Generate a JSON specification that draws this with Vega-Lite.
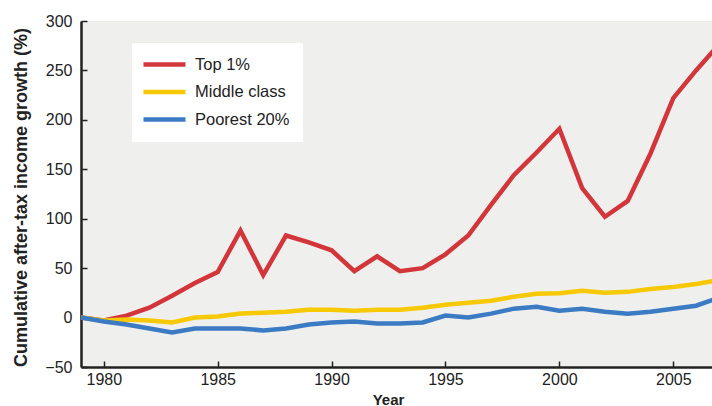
{
  "$schema": "https://vega.github.io/schema/vega-lite/v6.json",
  "autosize": {"type": "none"},
  "padding": {"left": 81, "top": 21, "right": 0, "bottom": 39},
  "width": 631,
  "height": 346,
  "background": "#ffffff",
  "view": {"fill": "#efefee", "stroke": null},
  "config": {
    "font": "Liberation Sans",
    "axis": {"labelFont": "Liberation Sans", "titleFont": "Liberation Sans", "labelColor": "#222222", "titleColor": "#222222"}
  },
  "data": {
    "values": [
      {"year": 1979, "group": "Top 1%", "value": 0},
      {"year": 1980, "group": "Top 1%", "value": -3},
      {"year": 1981, "group": "Top 1%", "value": 2},
      {"year": 1982, "group": "Top 1%", "value": 10},
      {"year": 1983, "group": "Top 1%", "value": 22},
      {"year": 1984, "group": "Top 1%", "value": 35},
      {"year": 1985, "group": "Top 1%", "value": 46},
      {"year": 1986, "group": "Top 1%", "value": 88},
      {"year": 1987, "group": "Top 1%", "value": 43},
      {"year": 1988, "group": "Top 1%", "value": 83},
      {"year": 1989, "group": "Top 1%", "value": 76},
      {"year": 1990, "group": "Top 1%", "value": 68},
      {"year": 1991, "group": "Top 1%", "value": 47},
      {"year": 1992, "group": "Top 1%", "value": 62},
      {"year": 1993, "group": "Top 1%", "value": 47},
      {"year": 1994, "group": "Top 1%", "value": 50},
      {"year": 1995, "group": "Top 1%", "value": 64},
      {"year": 1996, "group": "Top 1%", "value": 83},
      {"year": 1997, "group": "Top 1%", "value": 114},
      {"year": 1998, "group": "Top 1%", "value": 144},
      {"year": 1999, "group": "Top 1%", "value": 167},
      {"year": 2000, "group": "Top 1%", "value": 191},
      {"year": 2001, "group": "Top 1%", "value": 131},
      {"year": 2002, "group": "Top 1%", "value": 102},
      {"year": 2003, "group": "Top 1%", "value": 118},
      {"year": 2004, "group": "Top 1%", "value": 166},
      {"year": 2005, "group": "Top 1%", "value": 222},
      {"year": 2006, "group": "Top 1%", "value": 250},
      {"year": 2007, "group": "Top 1%", "value": 276},
      {"year": 1979, "group": "Middle class", "value": 0},
      {"year": 1980, "group": "Middle class", "value": -3},
      {"year": 1981, "group": "Middle class", "value": -2},
      {"year": 1982, "group": "Middle class", "value": -3},
      {"year": 1983, "group": "Middle class", "value": -5},
      {"year": 1984, "group": "Middle class", "value": 0},
      {"year": 1985, "group": "Middle class", "value": 1},
      {"year": 1986, "group": "Middle class", "value": 4},
      {"year": 1987, "group": "Middle class", "value": 5},
      {"year": 1988, "group": "Middle class", "value": 6},
      {"year": 1989, "group": "Middle class", "value": 8},
      {"year": 1990, "group": "Middle class", "value": 8},
      {"year": 1991, "group": "Middle class", "value": 7},
      {"year": 1992, "group": "Middle class", "value": 8},
      {"year": 1993, "group": "Middle class", "value": 8},
      {"year": 1994, "group": "Middle class", "value": 10},
      {"year": 1995, "group": "Middle class", "value": 13},
      {"year": 1996, "group": "Middle class", "value": 15},
      {"year": 1997, "group": "Middle class", "value": 17},
      {"year": 1998, "group": "Middle class", "value": 21},
      {"year": 1999, "group": "Middle class", "value": 24},
      {"year": 2000, "group": "Middle class", "value": 24.5},
      {"year": 2001, "group": "Middle class", "value": 27},
      {"year": 2002, "group": "Middle class", "value": 25},
      {"year": 2003, "group": "Middle class", "value": 26},
      {"year": 2004, "group": "Middle class", "value": 29},
      {"year": 2005, "group": "Middle class", "value": 31},
      {"year": 2006, "group": "Middle class", "value": 34},
      {"year": 2007, "group": "Middle class", "value": 38},
      {"year": 1979, "group": "Poorest 20%", "value": 0},
      {"year": 1980, "group": "Poorest 20%", "value": -4},
      {"year": 1981, "group": "Poorest 20%", "value": -7},
      {"year": 1982, "group": "Poorest 20%", "value": -11},
      {"year": 1983, "group": "Poorest 20%", "value": -15},
      {"year": 1984, "group": "Poorest 20%", "value": -11},
      {"year": 1985, "group": "Poorest 20%", "value": -11},
      {"year": 1986, "group": "Poorest 20%", "value": -11},
      {"year": 1987, "group": "Poorest 20%", "value": -13},
      {"year": 1988, "group": "Poorest 20%", "value": -11},
      {"year": 1989, "group": "Poorest 20%", "value": -7},
      {"year": 1990, "group": "Poorest 20%", "value": -5},
      {"year": 1991, "group": "Poorest 20%", "value": -4},
      {"year": 1992, "group": "Poorest 20%", "value": -6},
      {"year": 1993, "group": "Poorest 20%", "value": -6},
      {"year": 1994, "group": "Poorest 20%", "value": -5},
      {"year": 1995, "group": "Poorest 20%", "value": 2},
      {"year": 1996, "group": "Poorest 20%", "value": 0},
      {"year": 1997, "group": "Poorest 20%", "value": 4},
      {"year": 1998, "group": "Poorest 20%", "value": 9},
      {"year": 1999, "group": "Poorest 20%", "value": 11},
      {"year": 2000, "group": "Poorest 20%", "value": 7},
      {"year": 2001, "group": "Poorest 20%", "value": 9},
      {"year": 2002, "group": "Poorest 20%", "value": 6},
      {"year": 2003, "group": "Poorest 20%", "value": 4},
      {"year": 2004, "group": "Poorest 20%", "value": 6},
      {"year": 2005, "group": "Poorest 20%", "value": 9},
      {"year": 2006, "group": "Poorest 20%", "value": 12},
      {"year": 2007, "group": "Poorest 20%", "value": 20}
    ]
  },
  "mark": {"type": "line", "strokeWidth": 4.5, "clip": true, "strokeJoin": "miter", "strokeCap": "butt"},
  "encoding": {
    "x": {
      "field": "year",
      "type": "quantitative",
      "scale": {"domain": [1979, 2006.7], "nice": false, "zero": false},
      "axis": {
        "title": "Year",
        "values": [1980, 1985, 1990, 1995, 2000, 2005],
        "format": "d",
        "grid": false,
        "domainColor": "#222222",
        "domainWidth": 2.5,
        "tickColor": "#222222",
        "tickWidth": 1.5,
        "tickSize": -6,
        "labelFontSize": 16,
        "labelPadding": 10,
        "titleFontSize": 15,
        "titleFontWeight": "bold",
        "titleBaseline": "top",
        "titleX": 307,
        "titleY": 25
      }
    },
    "y": {
      "field": "value",
      "type": "quantitative",
      "scale": {"domain": [-50, 300], "nice": false, "zero": false},
      "axis": {
        "title": "Cumulative after-tax income growth (%)",
        "values": [-50, 0, 50, 100, 150, 200, 250, 300],
        "grid": false,
        "domainColor": "#222222",
        "domainWidth": 2.5,
        "tickColor": "#222222",
        "tickWidth": 1.5,
        "tickSize": -6,
        "labelFontSize": 16,
        "labelPadding": 15,
        "titleFontSize": 18,
        "titleFontWeight": "bold",
        "titleBaseline": "alphabetic",
        "titleX": -55,
        "titleY": 176
      }
    },
    "color": {
      "field": "group",
      "type": "nominal",
      "sort": ["Top 1%", "Middle class", "Poorest 20%"],
      "scale": {"domain": ["Top 1%", "Middle class", "Poorest 20%"], "range": ["#d3363a", "#f7c905", "#3b7bc4"]},
      "legend": {
        "title": null,
        "orient": "none",
        "legendX": 51,
        "legendY": 22,
        "fillColor": "#ffffff",
        "padding": 13,
        "symbolType": "M-1.67,0H5.33",
        "symbolSize": 144,
        "symbolStrokeWidth": 4.5,
        "labelFont": "Liberation Sans",
        "labelFontSize": 16.5,
        "labelColor": "#222222",
        "labelOffset": 33,
        "rowPadding": 8.5
      }
    }
  }
}
